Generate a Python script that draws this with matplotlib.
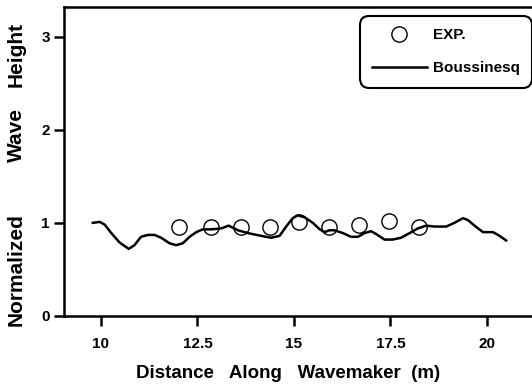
import numpy as np
import matplotlib
matplotlib.use('Agg')
import matplotlib.pyplot as plt

plt.rcParams['font.family'] = ['Liberation Sans', 'DejaVu Sans']
plt.rcParams['font.weight'] = 'bold'

# Boussinesq model curve
bx = [9.79, 9.97, 10.10, 10.27, 10.48, 10.72, 10.87, 11.04, 11.22, 11.39,
      11.56, 11.78, 11.95, 12.12, 12.30, 12.47, 12.64, 12.86, 13.12, 13.31,
      13.55, 13.81, 14.15, 14.41, 14.63, 14.80, 14.97, 15.10, 15.28, 15.49,
      15.67, 15.80, 15.92, 16.05, 16.27, 16.48, 16.66, 16.83, 17.00, 17.13,
      17.35, 17.56, 17.78, 18.00, 18.21, 18.43, 18.64, 18.95, 19.16, 19.38,
      19.51, 19.68, 19.90, 20.16, 20.33, 20.50]
by = [1.00, 1.01, 0.98, 0.89, 0.79, 0.72, 0.76, 0.85, 0.87, 0.87,
      0.84, 0.78, 0.76, 0.78, 0.85, 0.90, 0.93, 0.93, 0.94, 0.97,
      0.92, 0.89, 0.86, 0.84, 0.86, 0.96, 1.05, 1.08, 1.06, 1.00,
      0.93, 0.90, 0.92, 0.92, 0.89, 0.85, 0.85, 0.89, 0.91, 0.88,
      0.82, 0.82, 0.84, 0.89, 0.94, 0.97, 0.96, 0.96, 1.00, 1.05,
      1.03, 0.97, 0.90, 0.90, 0.86, 0.81]

# experimental points
ex = [12.03, 12.84, 13.62, 14.38, 15.14, 15.92, 16.69, 17.47, 18.25]
ey = [0.96, 0.95, 0.95, 0.96, 1.01, 0.96, 0.98, 1.02, 0.96]

xticks = [10, 12.5, 15, 17.5, 20]
xlabels = ['10', '12.5', '15', '17.5', '20']
yticks = [0, 1, 2, 3]

fig = plt.figure(figsize=(5.32, 3.89), dpi=100)
ax = fig.add_axes([0.120, 0.188, 0.880, 0.794])

ax.plot(ex, ey, 'o', mfc='none', mec='black', mew=1.0, ms=11, label='EXP.')
ax.plot(bx, by, '-', color='black', lw=1.8, label='Boussinesq')

ax.set_xlim(9.04, 21.17)
ax.set_ylim(0, 3.32)
ax.set_xticks(xticks)
ax.set_xticklabels(xlabels)
ax.set_yticks(yticks)
ax.tick_params(direction='out', length=7, width=1.8, labelsize=11, pad=8)
ax.tick_params(axis='y', pad=3)
ax.spines['right'].set_visible(False)
for s in ['left', 'bottom', 'top']:
    ax.spines[s].set_linewidth(1.8)

fig.text(288 / 532, 1 - 373 / 389, 'Distance   Along   Wavemaker  (m)',
         fontsize=13.5, fontweight='bold', ha='center', va='center')
# y label words spaced out like the scanned original
for word, yc in [('Normalized', 270), ('Wave', 135), ('Height', 54)]:
    fig.text(16 / 532, 1 - yc / 389, word, fontsize=15, fontweight='bold',
             ha='center', va='center', rotation=90)

leg = ax.legend(loc='upper right', bbox_to_anchor=(1.0, 0.971), fontsize=11,
                handlelength=3.6, handletextpad=0.4, labelspacing=1.25,
                borderpad=0.8, borderaxespad=0, fancybox=True, framealpha=1,
                edgecolor='black')
leg.get_frame().set_linewidth(1.5)
leg.get_frame().set_boxstyle('round', pad=0, rounding_size=0.6)

fig.savefig('out.png', dpi=100)
